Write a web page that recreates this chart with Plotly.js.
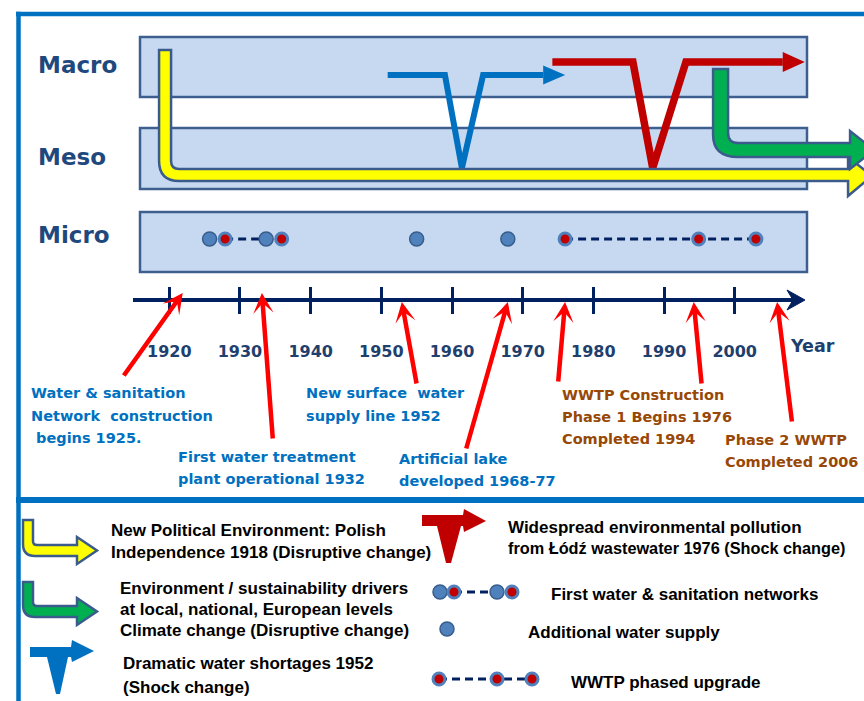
<!DOCTYPE html>
<html><head><meta charset="utf-8">
<script src="https://cdn.plot.ly/plotly-3.0.1.min.js"></script>
<style>html,body{margin:0;padding:0;background:#fff}#chart{width:864px;height:701px}</style>
</head><body><div id="chart"></div>
<script>
// ---------------- DATA ----------------
const tickYears  = [1920, 1930, 1940, 1950, 1960, 1970, 1980, 1990, 2000];
const tickLabels = ['1920', '1930', '1940', '1950', '1960', '1970', '1980', '1990', '2000'];
const rowNames   = ['Macro', 'Meso', 'Micro'];

// change drivers (years)
const politicalYear  = 1919.4;                                   // yellow: new political environment
const driversYear    = 1998.0;                                   // green: sustainability drivers
const shortageYears  = [1950.9, 1959.0, 1961.4, 1964.4, 1972.9]; // blue shock path vertices
const pollutionYears = [1974.2, 1985.6, 1988.4, 1993.1, 2006.8]; // red shock path vertices

// micro-level interventions
const networkWaterYears      = [1925.7, 1933.7];
const networkSanitationYears = [1927.9, 1935.9];
const supplyYears            = [1955.0, 1967.9];
const wwtpYears              = [1976.0, 1994.9, 2003.0];

// timeline events (arrow targets)
const eventYears = [1921.9, 1933.1, 1952.9, 1967.9, 1976.0, 1994.2, 2006.0];
const eventTexts = [
  ['Water & sanitation', 'Network  construction', ' begins 1925.'],
  ['First water treatment', 'plant operational 1932'],
  ['New surface  water', 'supply line 1952'],
  ['Artificial lake', 'developed 1968-77'],
  ['WWTP Construction', 'Phase 1 Begins 1976', 'Completed 1994'],
  [],
  ['Phase 2 WWTP', 'Completed 2006']
];
const legendTexts = [
  ['New Political Environment: Polish', 'Independence 1918 (Disruptive change)'],
  ['Environment / sustainability drivers', 'at local, national, European levels', 'Climate change (Disruptive change)'],
  ['Dramatic water shortages 1952', '(Shock change)'],
  ['Widespread environmental pollution', 'from Łódź wastewater 1976 (Shock change)'],
  ['First water & sanitation networks'],
  ['Additional water supply'],
  ['WWTP phased upgrade']
];

// ---------------- LAYOUT GEOMETRY ----------------
const W = 864, H = 701;
const PX1920 = 169.3, PPY = 7.0675;               // pixel of 1920, pixels per year
const xRange = [1920 - PX1920 / PPY, 1920 + (W - PX1920) / PPY];
const rows = [
  {top: 37,  bottom: 97,  label: 65},
  {top: 128, bottom: 189, label: 157},
  {top: 212, bottom: 272, label: 235}
];
const bandX = [140, 807];
const axisY = 300;
const dotY = 239;
const blueTopY = 75, redTopY = 62, vBottomY = 168;

const BLUE = '#0070c0', RED = '#c00000', NAVY = '#002060', OUT = '#3b5b8c';
const BROWN = '#984806', LABEL = '#1f3f6e';
const DJ = 'DejaVu Sans', LS = 'Liberation Sans';

// ---------------- TRACES ----------------
const traces = [];
const dummy = ax => ({x: [null], y: [null], xaxis: ax, yaxis: 'y', mode: 'markers', showlegend: false, hoverinfo: 'skip'});
traces.push(dummy('x2'), dummy('x3'), dummy('x4'));

traces.push({x: shortageYears, y: [blueTopY, blueTopY, vBottomY, blueTopY, blueTopY], mode: 'lines',
  line: {color: BLUE, width: 6}, hoverinfo: 'skip'});
traces.push({x: pollutionYears, y: [redTopY, redTopY, vBottomY, redTopY, redTopY], mode: 'lines',
  line: {color: RED, width: 7.5}, hoverinfo: 'skip'});

const dash = {color: NAVY, width: 3, dash: '8px,5px'};
traces.push({x: [networkSanitationYears[0], networkWaterYears[1]], y: [dotY, dotY], mode: 'lines', line: dash, hoverinfo: 'skip'});
traces.push({x: [wwtpYears[0], wwtpYears[wwtpYears.length - 1]], y: [dotY, dotY], mode: 'lines', line: dash, hoverinfo: 'skip'});

const blueMarker = {size: 14, color: '#4f81bd', line: {color: '#385d8a', width: 1.5}};
const redMarker  = {size: 12, color: RED, line: {color: '#4f81bd', width: 3}};
const blueDots = networkWaterYears.concat(supplyYears);
const redDots  = networkSanitationYears.concat(wwtpYears);
traces.push({x: blueDots, y: blueDots.map(() => dotY), mode: 'markers', marker: blueMarker, hoverinfo: 'skip'});
traces.push({x: redDots,  y: redDots.map(() => dotY),  mode: 'markers', marker: redMarker,  hoverinfo: 'skip'});

// legend samples (pixel axis x4)
const lg = (x, y, mode, extra) => Object.assign({x, y, xaxis: 'x4', yaxis: 'y', mode, hoverinfo: 'skip'}, extra);
traces.push(lg([454, 497], [592, 592], 'lines', {line: dash}));
traces.push(lg([439, 532], [679, 679], 'lines', {line: dash}));
traces.push(lg([440, 497, 447], [592, 592, 629], 'markers', {marker: blueMarker}));
traces.push(lg([454, 512, 439, 497, 532], [592, 592, 679, 679, 679], 'markers', {marker: redMarker}));

// ---------------- SHAPES ----------------
const shapes = [];
// frame
shapes.push({type: 'line', xref: 'x4', yref: 'y', x0: 16, x1: 870, y0: 14, y1: 14, line: {color: BLUE, width: 4.5}});
shapes.push({type: 'line', xref: 'x4', yref: 'y', x0: 18.5, x1: 18.5, y0: 11.8, y1: 705, line: {color: BLUE, width: 4.5}});
shapes.push({type: 'line', xref: 'x4', yref: 'y', x0: 16, x1: 870, y0: 500, y1: 500, line: {color: BLUE, width: 6}});
// bands
rows.forEach(r => shapes.push({type: 'rect', xref: 'x4', yref: 'y', x0: bandX[0], x1: bandX[1], y0: r.top, y1: r.bottom,
  fillcolor: '#c6d9f1', line: {color: '#3d5f8f', width: 2.5}, layer: 'below'}));
// timeline axis line + arrow head
shapes.push({type: 'line', xref: 'x4', yref: 'y', x0: 133, x1: 795, y0: axisY, y1: axisY, line: {color: NAVY, width: 4}});
shapes.push({type: 'path', xref: 'x4', yref: 'y', path: 'M787,290 L805,300 L787,310 L793,300 Z', fillcolor: NAVY, line: {color: NAVY, width: 1}});

// yellow L arrow (anchored at politicalYear)
shapes.push({type: 'path', xref: 'x', yref: 'y', xsizemode: 'pixel', xanchor: politicalYear,
  path: 'M-6,50 L6,50 L6,161 Q6,169 14,169 L683,169 L683,157 L707,176 L683,196 L683,181 L14,181 Q-6,181 -6,161 Z',
  fillcolor: '#ffff00', line: {color: OUT, width: 2.5}});
// green L arrow (anchored at driversYear)
shapes.push({type: 'path', xref: 'x', yref: 'y', xsizemode: 'pixel', xanchor: driversYear,
  path: 'M-7.5,69 L7.5,69 L7.5,133 Q7.5,143 17.5,143 L129.5,143 L129.5,131 L153.5,150 L129.5,169 L129.5,157 L17.5,157 Q-7.5,157 -7.5,135 Z',
  fillcolor: '#00b050', line: {color: OUT, width: 2.5}});
// shock arrow heads
shapes.push({type: 'path', xref: 'x', yref: 'y', xsizemode: 'pixel', xanchor: shortageYears[shortageYears.length - 1],
  path: `M0,${blueTopY - 9.5} L22,${blueTopY} L0,${blueTopY + 9.5} Z`, fillcolor: BLUE, line: {width: 0}});
shapes.push({type: 'path', xref: 'x', yref: 'y', xsizemode: 'pixel', xanchor: pollutionYears[pollutionYears.length - 1],
  path: `M0,${redTopY - 10} L22,${redTopY} L0,${redTopY + 10} Z`, fillcolor: RED, line: {width: 0}});

// legend icons
shapes.push({type: 'path', xref: 'x4', yref: 'y',
  path: 'M23,520 L33,520 L33,541 Q33,545 37,545 L77,545 L77,537 L97,550.5 L77,564 L77,556 L35,556 Q23,556 23,544 Z',
  fillcolor: '#ffff00', line: {color: OUT, width: 2.5}});
shapes.push({type: 'path', xref: 'x4', yref: 'y',
  path: 'M23,582 L33,582 L33,602 Q33,606 37,606 L77,606 L77,598 L97,611.5 L77,625 L77,617 L35,617 Q23,617 23,605 Z',
  fillcolor: '#00b050', line: {color: OUT, width: 2.5}});
shapes.push({type: 'path', xref: 'x4', yref: 'y',
  path: 'M30,647 L47,647 L57,647 L68,647 L71,647 L72,640 L94,651 L72,662 L71,657 L68,657 L60,694 L56,694 L47,657 L30,657 Z',
  fillcolor: BLUE, line: {width: 0}});
shapes.push({type: 'path', xref: 'x4', yref: 'y',
  path: 'M422,515 L463,515 L464,509 L486,521 L464,532 L463,526 L461,526 L451,563 L446,563 L437,526 L422,526 Z',
  fillcolor: RED, line: {width: 0}});

// ---------------- ANNOTATIONS ----------------
const annotations = [];
const txt = (x, y, text, color, size, family, weight) => annotations.push({
  xref: 'x4', yref: 'y', x, y, text, showarrow: false, xanchor: 'left', yanchor: 'middle',
  font: {family, size, color, weight: weight || 'normal'}});

// row labels
rowNames.forEach((n, i) => txt(36, rows[i].label, n, '#1f497d', 23, DJ, 'bold'));
// Year
txt(788, 346, 'Year', LABEL, 17.5, DJ, 'bold');

// event arrows (pointing at the event year on the timeline)
const arrowTipY  = [293, 293, 302, 302, 302, 302, 302];
const arrowTail  = [[-60, 84], [11, 147], [15, 83], [-42, 148], [-7, 81], [8, 83], [15, 121]];
eventYears.forEach((yr, i) => annotations.push({
  xref: 'x', yref: 'y', x: yr, y: arrowTipY[i], ax: arrowTail[i][0], ay: arrowTail[i][1], text: '',
  showarrow: true, arrowhead: 3, arrowsize: 0.75, arrowwidth: 4.5, arrowcolor: '#ff0000', standoff: 0}));

// event texts
const eventPos = [[29, 393, 22.5], [176, 457, 22], [304, 393, 23], [397, 459, 22], [560, 395, 22], [0, 0, 0], [723, 440, 21.5]];
const eventColor = [BLUE, BLUE, BLUE, BLUE, BROWN, BROWN, BROWN];
eventTexts.forEach((lines, i) => lines.forEach((l, j) =>
  txt(eventPos[i][0], eventPos[i][1] + j * eventPos[i][2], l, eventColor[i], 14.5, DJ, 'bold')));

// legend texts
const legendPos = [[109, 530, 22], [118, 588, 21], [121, 663, 24], [506, 527, 20.5], [549, 594, 0], [526, 632, 0], [569, 682, 0]];
legendTexts.forEach((lines, i) => lines.forEach((l, j) => {
  const size = (i === 3 && j === 1) ? 16.3 : 17;
  txt(legendPos[i][0], legendPos[i][1] + j * legendPos[i][2], l, '#000000', size, LS, 'bold');
}));

// ---------------- AXES ----------------
const hidden = {visible: false, showgrid: false, zeroline: false, fixedrange: true};
const axPos = 1 - axisY / H;
const tickFont = {family: DJ, size: 16, color: LABEL, weight: 'bold'};
const layout = {
  width: W, height: H, margin: {l: 0, r: 0, t: 0, b: 0},
  paper_bgcolor: '#ffffff', plot_bgcolor: 'rgba(0,0,0,0)', showlegend: false,
  xaxis: Object.assign({range: xRange, domain: [0, 1]}, hidden),
  yaxis: Object.assign({range: [H, 0], domain: [0, 1]}, hidden),
  xaxis2: {overlaying: 'x', anchor: 'free', position: axPos, side: 'bottom', range: xRange,
    showgrid: false, zeroline: false, showline: false, fixedrange: true,
    tickmode: 'array', tickvals: tickYears, ticktext: tickLabels, ticks: 'outside',
    ticklen: 13, tickwidth: 3, tickcolor: NAVY, tickfont: tickFont, ticklabelstandoff: 24},
  xaxis3: {overlaying: 'x', anchor: 'free', position: axPos, side: 'bottom', range: xRange,
    showgrid: false, zeroline: false, showline: false, fixedrange: true, showticklabels: false,
    tickmode: 'array', tickvals: tickYears, ticks: 'inside', ticklen: 13, tickwidth: 3, tickcolor: NAVY},
  xaxis4: Object.assign({range: [0, W], overlaying: 'x'}, hidden),
  shapes, annotations
};
Plotly.newPlot('chart', traces, layout, {staticPlot: true, displayModeBar: false});
</script></body></html>
